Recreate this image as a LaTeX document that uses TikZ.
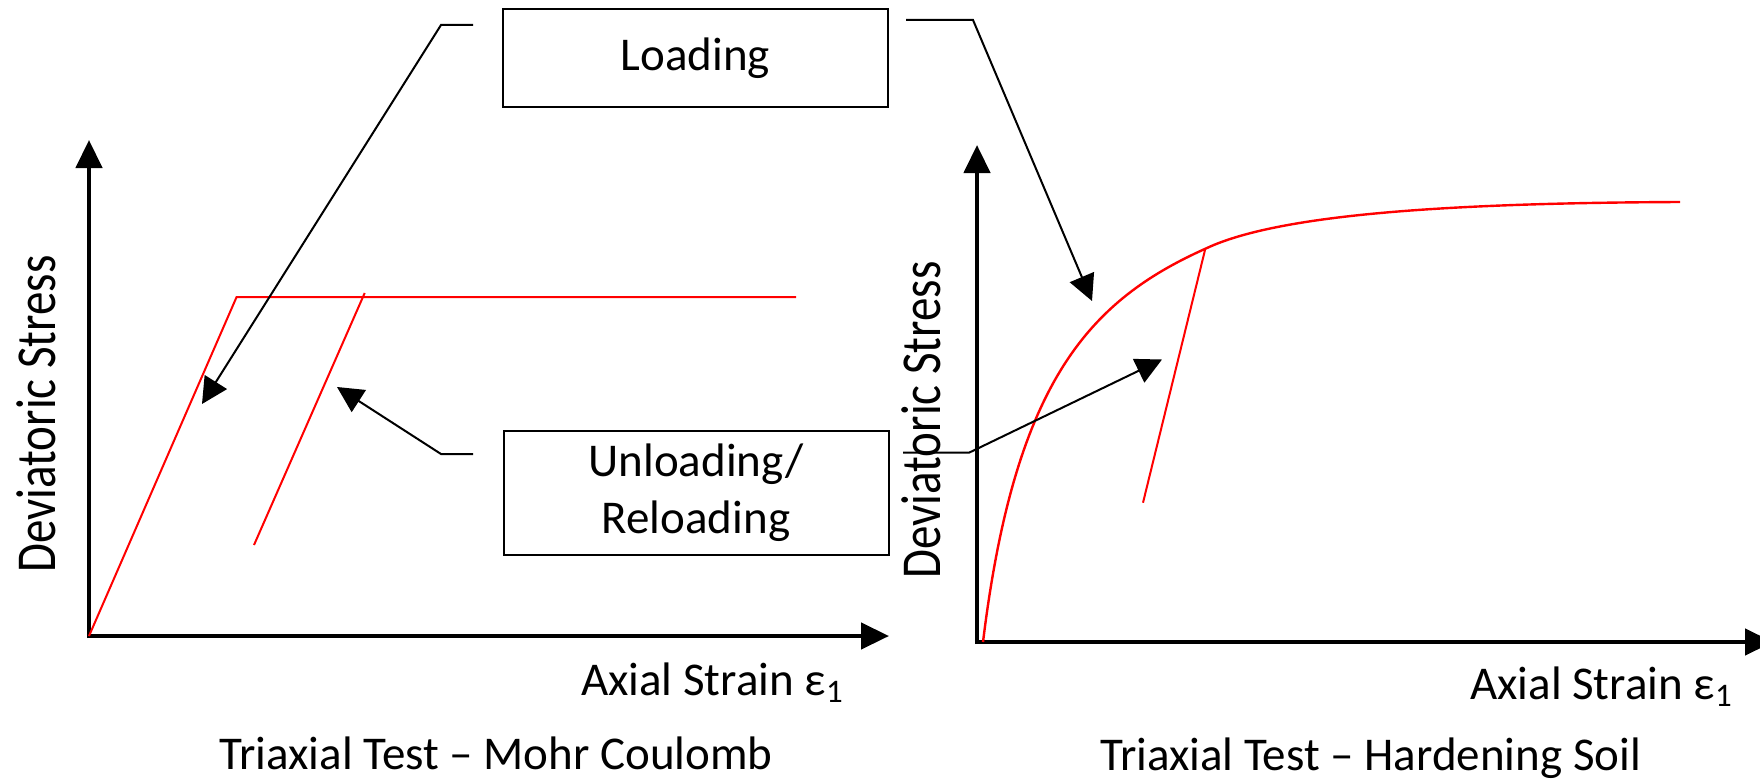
\documentclass[tikz,border=0pt]{standalone}
\usepackage{fontspec}
\setmainfont{Carlito}
\usetikzlibrary{arrows.meta}
\begin{document}
\begin{tikzpicture}[x=0.5pt,y=-0.5pt,
  axis/.style={line width=2.2pt,-{Triangle[length=14pt,width=13pt]}},
  curve/.style={red, line width=1pt},
  conn/.style={line width=1pt,-{Triangle[length=13pt,width=13pt]}},
  lbox/.style={draw, line width=1pt, minimum width=192.5pt, inner sep=0pt, align=center,
    font=\fontsize{23.5}{28.35}\selectfont},
  lbl/.style={font=\fontsize{23.5}{28}\selectfont, anchor=base, inner sep=0pt},
  ylbl/.style={lbl, rotate=90}
]
\path[use as bounding box] (0,0) rectangle (1760,781);

% ---- left plot ----
\coordinate (o1) at (89,636);
\coordinate (y1b) at (89,638.2);
\coordinate (y1t) at (89,140);
\coordinate (x1b) at (86.8,636);
\coordinate (x1t) at (889,636);
\draw[axis] (y1b) -- (y1t);
\draw[axis] (x1b) -- (x1t);
\coordinate (mcA) at (236.6,297);
\coordinate (mcB) at (796,297);
\draw[curve] (o1) -- (mcA) -- (mcB);
\coordinate (ur1a) at (364.7,293);
\coordinate (ur1b) at (254,545);
\draw[curve] (ur1a) -- (ur1b);

% ---- right plot ----
\coordinate (y2b) at (977,644.2);
\coordinate (y2t) at (977,145);
\coordinate (x2b) at (974.8,642);
\coordinate (x2t) at (1773,642);
\draw[axis] (y2b) -- (y2t);
\draw[axis] (x2b) -- (x2t);
\coordinate (o2) at (983,642);
\coordinate (hsM) at (1207,248);
\coordinate (hsE) at (1680,202);
\draw[curve, line width=1.2pt] (o2) .. controls (1015,380) and (1090,300) .. (hsM)
  .. controls (1280,214) and (1450,203) .. (hsE);
\coordinate (ur2a) at (1205,250);
\coordinate (ur2b) at (1143,502.7);
\draw[curve] (ur2a) -- (ur2b);

% ---- boxes ----
\node[lbox, minimum height=49pt] (load) at (695.5,58) {Loading};
\node[lbox, minimum height=62pt] (unload) at (696,493) {Unloading/\\Reloading};

% ---- connectors ----
\coordinate (a1s) at (473,25);
\coordinate (a1k) at (441,25);
\coordinate (a1t) at (202,404);
\draw[conn] (a1s) -- (a1k) -- (a1t);
\coordinate (b1s) at (473,454);
\coordinate (b1k) at (441,454);
\coordinate (b1t) at (337,387);
\draw[conn] (b1s) -- (b1k) -- (b1t);
\coordinate (a2s) at (906,20);
\coordinate (a2k) at (973,20);
\coordinate (a2t) at (1092,301);
\draw[conn] (a2s) -- (a2k) -- (a2t);
\coordinate (b2s) at (903,452.7);
\coordinate (b2k) at (969,452.7);
\coordinate (b2t) at (1162,359.5);
\draw[conn] (b2s) -- (b2k) -- (b2t);

% ---- labels ----
\node[ylbl] (yl1) at (55,414) {\scalebox{1}[1.2]{Deviatoric Stress}};
\node[ylbl] (yl2) at (940,420) {\scalebox{1}[1.2]{Deviatoric Stress}};
\node[lbl] (xl1) at (712.5,695) {Axial Strain ε\textsubscript{1}};
\node[lbl] (xl2) at (1601.5,699) {Axial Strain ε\textsubscript{1}};
\node[lbl] (t1) at (496,769) {Triaxial Test – Mohr Coulomb};
\node[lbl] (t2) at (1370.6,770) {Triaxial Test – Hardening Soil};
\end{tikzpicture}
\end{document}
